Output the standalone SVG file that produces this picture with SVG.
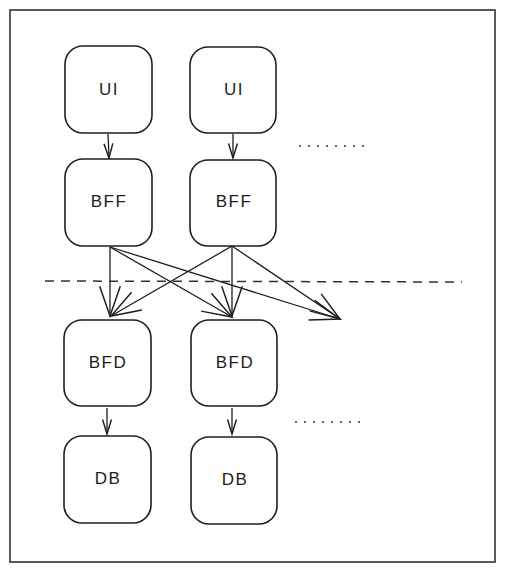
<svg xmlns="http://www.w3.org/2000/svg" width="505" height="572" viewBox="0 0 505 572">
<style>
.node rect{fill:#fff;stroke:#1e1e1e;stroke-width:1.6}
.node text{font-family:"Liberation Sans",Arial,sans-serif;font-size:17px;fill:#1e1e1e;text-anchor:middle;dominant-baseline:central;letter-spacing:1.5px}
.c{stroke:#1e1e1e;stroke-width:1.3;fill:none}
.big{marker-end:url(#hb)}
.small{marker-end:url(#hs)}
</style>
<defs>
<marker id="hb" markerUnits="userSpaceOnUse" orient="auto" markerWidth="40" markerHeight="40" viewBox="-30 -15 35 30" refX="0" refY="0" overflow="visible">
<path d="M-26,-9 L0,0 L-26,9" fill="none" stroke="#1e1e1e" stroke-width="1.3"/>
</marker>
<marker id="hs" markerUnits="userSpaceOnUse" orient="auto" markerWidth="20" markerHeight="20" viewBox="-15 -8 18 16" refX="0" refY="0" overflow="visible">
<path d="M-13,-4 L0,0 L-13,4" fill="none" stroke="#1e1e1e" stroke-width="1.3"/>
</marker>
</defs>
<rect width="505" height="572" fill="#fff"/>
<g id="frame"><rect x="10" y="10" width="485" height="552" fill="none" stroke="#333" stroke-width="1.6"/></g>
<g id="connectors">
<line class="c small" x1="108" y1="134" x2="109" y2="158"/>
<line class="c small" x1="233" y1="134" x2="233" y2="158"/>
<line class="c small" x1="107" y1="408" x2="107" y2="434"/>
<line class="c small" x1="232" y1="408" x2="232" y2="434"/>
<line class="c big" x1="110" y1="247" x2="110" y2="316"/>
<line class="c big" x1="110" y1="247" x2="232" y2="317"/>
<line class="c big" x1="110" y1="247" x2="340" y2="319"/>
<line class="c big" x1="232" y1="246" x2="111" y2="316"/>
<line class="c big" x1="232" y1="246" x2="232" y2="316"/>
<line class="c big" x1="232" y1="246" x2="340" y2="319"/>
</g>
<g id="separator"><line x1="45" y1="281" x2="462" y2="282" stroke="#333" stroke-width="1.5" stroke-dasharray="9 7"/></g>
<g id="dots-top"><line x1="299" y1="146" x2="364" y2="146" stroke="#333" stroke-width="1.3" stroke-dasharray="2 7"/></g>
<g id="dots-bottom"><line x1="295" y1="422" x2="360" y2="422" stroke="#333" stroke-width="1.3" stroke-dasharray="2 7"/></g>
<g id="ui1" class="node"><rect x="65" y="46" width="87" height="87" rx="18"/><text x="109" y="89">UI</text></g>
<g id="ui2" class="node"><rect x="190" y="47" width="86" height="86" rx="18"/><text x="234" y="89">UI</text></g>
<g id="bff1" class="node"><rect x="65" y="159" width="87" height="87" rx="18"/><text x="109" y="201">BFF</text></g>
<g id="bff2" class="node"><rect x="190" y="160" width="86" height="86" rx="18"/><text x="234" y="201">BFF</text></g>
<g id="bfd1" class="node"><rect x="64" y="320" width="87" height="86" rx="18"/><text x="108" y="362">BFD</text></g>
<g id="bfd2" class="node"><rect x="191" y="320" width="86" height="86" rx="18"/><text x="235" y="362">BFD</text></g>
<g id="db1" class="node"><rect x="64" y="436" width="87" height="87" rx="18"/><text x="108" y="478">DB</text></g>
<g id="db2" class="node"><rect x="191" y="437" width="86" height="87" rx="18"/><text x="235" y="479">DB</text></g>
</svg>
